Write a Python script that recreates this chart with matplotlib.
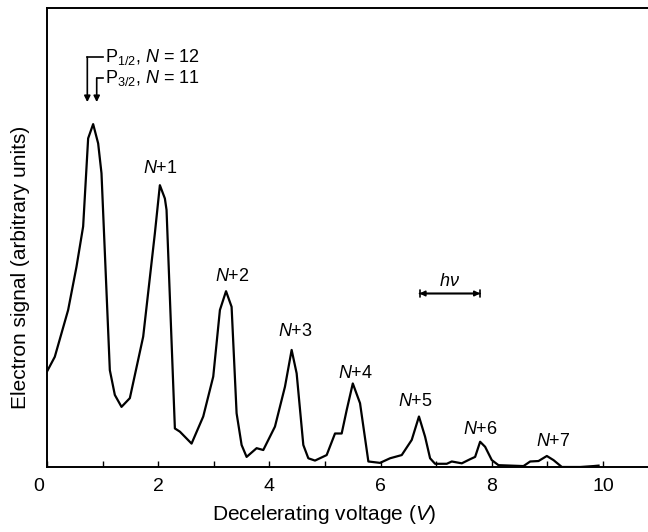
import matplotlib.pyplot as plt
import matplotlib.transforms as mtransforms

# trace (arbitrary units, 0..100 = axis height)
voltage = [0.0, 0.14, 0.38, 0.53, 0.65, 0.74, 0.83, 0.92, 0.98, 1.13, 1.22, 1.34, 1.49, 1.73,
           1.94, 2.03, 2.12, 2.15, 2.30, 2.39, 2.60, 2.81, 2.99, 3.11, 3.22, 3.32, 3.41, 3.50,
           3.59, 3.77, 3.89, 4.10, 4.28, 4.40, 4.49, 4.61, 4.70, 4.82, 5.03, 5.18, 5.30, 5.39,
           5.50, 5.63, 5.78, 5.99, 6.17, 6.38, 6.56, 6.69, 6.80, 6.89, 6.98, 7.19, 7.28, 7.46,
           7.61, 7.70, 7.79, 7.88, 8.00, 8.12, 8.57, 8.69, 8.84, 8.99, 9.11, 9.26, 9.59, 9.83, 9.92]
signal = [20.8, 24.0, 34.2, 43.6, 52.4, 71.6, 74.7, 70.5, 64.0, 21.1, 15.7, 13.1, 15.0, 28.4,
          50.9, 61.4, 58.5, 56.0, 8.4, 7.7, 5.1, 11.0, 19.7, 34.2, 38.3, 34.9, 11.7, 4.8,
          2.2, 4.1, 3.7, 8.8, 17.5, 25.5, 20.4, 4.8, 1.9, 1.4, 2.6, 7.3, 7.3, 12.4,
          18.2, 13.9, 1.2, 0.9, 1.9, 2.6, 5.9, 11.0, 6.6, 1.9, 0.7, 0.7, 1.2, 0.8,
          1.7, 2.2, 5.5, 4.4, 1.5, 0.4, 0.2, 1.2, 1.3, 2.4, 1.5, 0.0, 0.0, 0.2, 0.3]

# peak labels
peak_labels = ['$N$+1', '$N$+2', '$N$+3', '$N$+4', '$N$+5', '$N$+6', '$N$+7']
peak_x = [2.04, 3.34, 4.46, 5.54, 6.62, 7.79, 9.11]
peak_y = [65.1, 41.6, 29.5, 20.4, 14.2, 8.2, 5.5]

# photon energy marker
hv_start, hv_end, hv_level = 6.70, 7.79, 37.8

# fine-structure arrows
fs_labels = ['P$_{1/2}$, $N$ = 12', 'P$_{3/2}$, $N$ = 11']
fs_x = [0.725, 0.894]
fs_y = [89.3, 84.7]
fs_tip = 79.5

plt.rcParams['font.family'] = ['Liberation Sans Narrow', 'Liberation Sans', 'DejaVu Sans']
plt.rcParams['mathtext.fontset'] = 'custom'
plt.rcParams['mathtext.rm'] = 'Liberation Sans'
plt.rcParams['mathtext.it'] = 'Liberation Sans:italic'

fig = plt.figure(figsize=(6.48, 5.32), dpi=100)
ax = fig.add_axes([47 / 648, 65 / 532, 601 / 648, 459 / 532])

ax.plot(voltage, signal, color='black', lw=1.6)

ax.set_xlim(0, 601 / 55.6)
ax.set_ylim(0, 100)
ax.spines['right'].set_visible(False)
for s in ['left', 'top', 'bottom']:
    ax.spines[s].set_linewidth(1.4)

ax.set_xticks(range(0, 11))
ax.set_xticklabels([str(i) if i % 2 == 0 else '' for i in range(0, 11)])
ax.tick_params(axis='x', direction='in', length=4, width=1, pad=8, labelsize=14)
ax.set_yticks([])

# the "0" sits a little left of its tick in the original
zero = ax.get_xticklabels()[0]
zero.set_transform(zero.get_transform() + mtransforms.ScaledTranslation(-8 / 100, 0, fig.dpi_scale_trans))

fig.text(324 / 648, 1 - 515 / 532, 'Decelerating voltage ($V$)', ha='center', va='center', fontsize=15)
fig.text(21 / 648, 1 - 267 / 532, 'Electron signal (arbitrary units)', ha='center', va='center',
         rotation=90, fontsize=15)

for lab, x, y in zip(peak_labels, peak_x, peak_y):
    ax.text(x, y, lab, ha='center', va='center', fontsize=13)

# h nu spacing arrow
ax.annotate('', xy=(hv_start, hv_level), xytext=(hv_end, hv_level),
            arrowprops=dict(arrowstyle='<|-|>', color='black', lw=1.2, mutation_scale=8,
                            shrinkA=0, shrinkB=0))
ax.annotate('', xy=(hv_start, hv_level), xytext=(hv_end, hv_level),
            arrowprops=dict(arrowstyle='|-|, widthA=0.25, widthB=0.25', color='black', lw=1.2,
                            shrinkA=0, shrinkB=0))
ax.text((hv_start + hv_end) / 2, hv_level + 2.6, '$h\\nu$', ha='center', va='center', fontsize=13)

# bracket arrows for the two fine-structure components
for lab, x, y in zip(fs_labels, fs_x, fs_y):
    ax.plot([x, 1.01], [y, y], color='black', lw=1.2)
    ax.annotate('', xy=(x, fs_tip), xytext=(x, y),
                arrowprops=dict(arrowstyle='-|>', color='black', lw=1.2, mutation_scale=9,
                                shrinkA=0, shrinkB=0))
    ax.text(1.04, y, lab, ha='left', va='center', fontsize=13)

fig.savefig('out.png', dpi=100)
